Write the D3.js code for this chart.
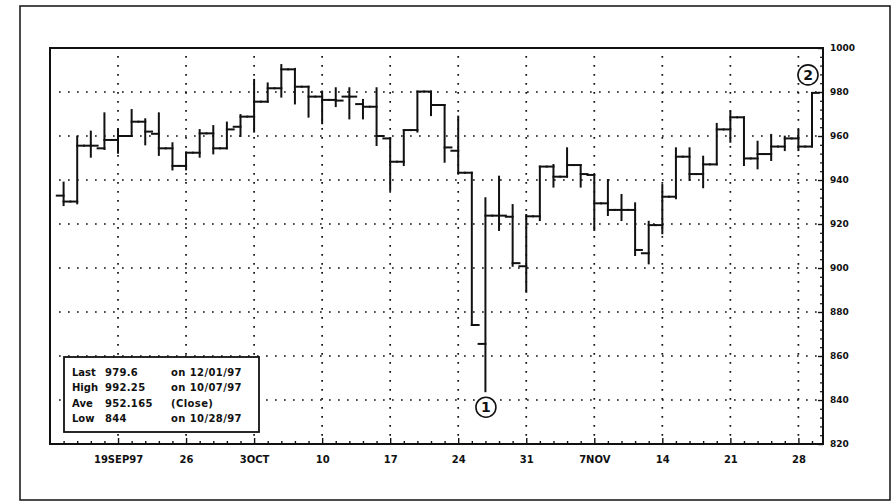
<!DOCTYPE html>
<html>
<head>
<meta charset="utf-8">
<script src="https://cdn.jsdelivr.net/npm/d3@7"></script>
<style>
  html, body { margin: 0; padding: 0; background: #fff; }
  svg { display: block; }
  text { font-family: "DejaVu Sans", sans-serif; font-weight: bold; fill: #111; }
</style>
</head>
<body>
<svg id="chart" width="896" height="503"></svg>
<script>
// ---- data ----
const dates = [
  "09/15","09/16","09/17","09/18","09/19",
  "09/22","09/23","09/24","09/25","09/26",
  "09/29","09/30","10/01","10/02","10/03",
  "10/06","10/07","10/08","10/09","10/10",
  "10/13","10/14","10/15","10/16","10/17",
  "10/20","10/21","10/22","10/23","10/24",
  "10/27","10/28","10/29","10/30","10/31",
  "11/03","11/04","11/05","11/06","11/07",
  "11/10","11/11","11/12","11/13","11/14",
  "11/17","11/18","11/19","11/20","11/21",
  "11/24","11/25","11/26","11/27","11/28",
  "12/01"
];
const openV = [
  932.9, 930.2, 955.6, 954.4, 958.2,
  960.0, 966.5, 961.0, 954.4, 946.4,
  952.4, 961.2, 954.4, 964.2, 968.8,
  975.6, 981.7, 990.3, 982.4, 977.9,
  976.4, 977.9, 974.5, 973.3, 958.9,
  948.3, 962.7, 980.2, 974.1, 953.3,
  943.3, 865.5, 923.8, 923.3, 900.8,
  923.5, 946.1, 941.5, 946.8, 942.3,
  929.4, 926.4, 926.4, 906.7, 919.5,
  932.4, 950.6, 942.7, 947.1, 963.0,
  968.5, 949.8, 951.8, 955.2, 958.9,
  955.2
];
const highV = [
  938.8, 959.7, 962.0, 970.3, 963.0,
  971.8, 967.6, 970.3, 956.7, 952.5,
  962.7, 964.5, 966.1, 969.5, 985.5,
  983.9, 992.25, 990.5, 982.4, 980.2,
  981.7, 981.7, 976.4, 981.7, 958.9,
  962.7, 980.2, 980.2, 974.1, 968.8,
  943.3, 931.7, 941.5, 928.6, 924.1,
  946.1, 946.8, 954.4, 946.8, 942.3,
  940.0, 933.2, 929.4, 921.0, 937.7,
  954.4, 954.4, 950.6, 965.5, 971.1,
  968.5, 957.4, 960.5, 959.7, 962.7,
  979.6
];
const lowV = [
  928.6, 929.4, 950.6, 954.1, 952.4,
  960.0, 956.2, 951.4, 944.8, 944.8,
  950.6, 952.1, 954.4, 960.0, 962.0,
  975.6, 977.9, 974.8, 968.8, 965.8,
  973.6, 968.0, 968.0, 955.9, 935.5,
  946.8, 962.0, 969.5, 948.3, 943.3,
  874.1, 844.0, 917.3, 901.0, 889.2,
  921.8, 937.0, 941.5, 937.0, 917.3,
  924.1, 921.8, 905.9, 902.1, 915.8,
  931.7, 940.0, 936.7, 947.1, 957.4,
  946.8, 945.3, 949.1, 953.6, 953.6,
  955.2
];
const closeV = [
  930.2, 955.6, 955.6, 958.2, 960.0,
  966.5, 962.0, 954.4, 946.4, 952.4,
  961.2, 954.4, 963.0, 968.8, 975.6,
  981.7, 990.3, 982.4, 977.9, 976.4,
  976.1, 977.9, 973.3, 960.0, 948.3,
  962.7, 980.2, 974.1, 954.8, 943.3,
  874.1, 923.8, 923.8, 902.2, 923.5,
  946.1, 941.5, 946.8, 942.7, 929.4,
  926.4, 926.4, 908.2, 919.5, 932.4,
  950.6, 942.7, 947.1, 963.0, 968.5,
  949.8, 951.8, 955.2, 958.9, 955.2,
  979.6
];
const yTicks = [820, 840, 860, 880, 900, 920, 940, 960, 980, 1000];
const yMinorTicks = [824, 828, 832, 836, 844, 848, 852, 856, 864, 868, 872, 876, 884, 888, 892, 896,
  904, 908, 912, 916, 924, 928, 932, 936, 944, 948, 952, 956, 964, 968, 972, 976, 984, 988, 992, 996];
const xTickDates  = ["09/19","09/26","10/03","10/10","10/17","10/24","10/31","11/07","11/14","11/21","11/28"];
const xTickLabels = ["19SEP97","26","3OCT","10","17","24","31","7NOV","14","21","28"];
const statNames  = ["Last", "High", "Ave", "Low"];
const statValues = ["979.6", "992.25", "952.165", "844"];
const statNotes  = ["on 12/01/97", "on 10/07/97", "(Close)", "on 10/28/97"];
const marks = [{label: "1", date: "10/28", at: "low"}, {label: "2", date: "12/01", at: "high"}];

// ---- layout ----
const svg = d3.select("#chart");
const P = {left: 50, right: 823, top: 48, bottom: 444};

const x = d3.scalePoint().domain(dates).range([63.6, 812]);
const step = x.step();
const y = d3.scaleLinear().domain([820, 1000]).range([P.bottom, P.top]);

// outer frame
svg.append("rect").attr("x", 20).attr("y", 6).attr("width", 870).attr("height", 494)
  .attr("fill", "none").attr("stroke", "#111").attr("stroke-width", 1.5);

// grid lines (dotted)
const grid = svg.append("g").attr("stroke", "#111").attr("stroke-width", 1.7)
  .attr("stroke-dasharray", "1.7,7.3").attr("fill", "none");
grid.selectAll("line.h").data(yTicks.filter(v => v > 820 && v < 1000)).join("line")
  .attr("x1", P.left + 9).attr("x2", P.right).attr("y1", d => y(d)).attr("y2", d => y(d));
grid.selectAll("line.v").data(xTickDates).join("line")
  .attr("x1", d => x(d)).attr("x2", d => x(d)).attr("y1", P.top + 8).attr("y2", P.bottom);

// right axis: minor ticks (inward) and labelled major ticks
const rMinor = svg.append("g").attr("transform", `translate(${P.right},0)`)
  .call(d3.axisRight(y).tickValues(yMinorTicks).tickSize(-3).tickFormat(""));
rMinor.select(".domain").remove();
rMinor.selectAll(".tick line").attr("stroke", "#111").attr("stroke-width", 1.2);
const rLab = svg.append("g").attr("transform", `translate(${P.right},0)`)
  .call(d3.axisRight(y).tickValues(yTicks).tickSize(-5).tickPadding(7).tickFormat(d3.format("d")));
rLab.select(".domain").remove();
rLab.selectAll("line").attr("stroke", "#111").attr("stroke-width", 1.4);
rLab.selectAll("text").attr("font-size", 9).attr("font-family", "DejaVu Sans")
  .attr("font-weight", "bold").attr("fill", "#111");

// bottom axis
const bAxis = svg.append("g").attr("transform", `translate(0,${P.bottom})`)
  .call(d3.axisBottom(x).tickValues(dates).tickSize(0).tickFormat(""));
bAxis.select(".domain").remove();
bAxis.selectAll(".tick line").attr("y2", d => xTickDates.includes(d) ? -6 : -3)
  .attr("stroke", "#111").attr("stroke-width", 1.4);
const bLab = svg.append("g").attr("transform", `translate(0,${P.bottom})`)
  .call(d3.axisBottom(x).tickValues(xTickDates).tickSize(0).tickPadding(12)
    .tickFormat((d, i) => xTickLabels[i]));
bLab.select(".domain").remove();
bLab.selectAll("text").attr("font-size", 10).attr("font-family", "DejaVu Sans")
  .attr("font-weight", "bold").attr("fill", "#111");

// plot frame
svg.append("rect").attr("x", P.left).attr("y", P.top)
  .attr("width", P.right - P.left).attr("height", P.bottom - P.top)
  .attr("fill", "none").attr("stroke", "#111").attr("stroke-width", 2);

// OHLC bars
const bars = dates.map((d, i) => ({d, o: openV[i], h: highV[i], l: lowV[i], c: closeV[i]}));
const tw = step * 0.5;
const gb = svg.append("g").attr("stroke", "#111").attr("stroke-width", 2)
  .attr("stroke-linecap", "square");
gb.selectAll("line.hl").data(bars).join("line").attr("class", "hl")
  .attr("x1", b => x(b.d)).attr("x2", b => x(b.d))
  .attr("y1", b => y(b.h)).attr("y2", b => y(b.l));
gb.selectAll("line.op").data(bars).join("line").attr("class", "op")
  .attr("x1", b => x(b.d) - tw).attr("x2", b => x(b.d))
  .attr("y1", b => y(b.o)).attr("y2", b => y(b.o));
gb.selectAll("line.cl").data(bars).join("line").attr("class", "cl")
  .attr("x1", b => x(b.d)).attr("x2", b => x(b.d) + tw)
  .attr("y1", b => y(b.c)).attr("y2", b => y(b.c));

// annotation circles
const ann = svg.append("g");
marks.forEach(m => {
  const i = dates.indexOf(m.date);
  const cx = x(m.date) + (m.at === "low" ? 0.5 : -4);
  const cy = m.at === "low" ? y(lowV[i]) + 16 : y(highV[i]) - 18;
  ann.append("circle").attr("cx", cx).attr("cy", cy).attr("r", 10)
    .attr("fill", "#fff").attr("stroke", "#111").attr("stroke-width", 1.6);
  ann.append("text").attr("x", cx).attr("y", cy + 5).attr("text-anchor", "middle")
    .attr("font-size", 14).text(m.label);
});

// stats box
const box = svg.append("g");
box.append("rect").attr("x", 64).attr("y", 357).attr("width", 195).attr("height", 75)
  .attr("fill", "#fff").attr("stroke", "#111").attr("stroke-width", 1.8);
statNames.forEach((n, i) => {
  const by = 376 + i * 15.3;
  box.append("text").attr("x", 72).attr("y", by).attr("font-size", 10).text(n);
  box.append("text").attr("x", 105).attr("y", by).attr("font-size", 10)
    .attr("letter-spacing", 0.3).text(statValues[i]);
  box.append("text").attr("x", 171).attr("y", by).attr("font-size", 10)
    .attr("letter-spacing", 0.4).text(statNotes[i]);
});
</script>
</body>
</html>
